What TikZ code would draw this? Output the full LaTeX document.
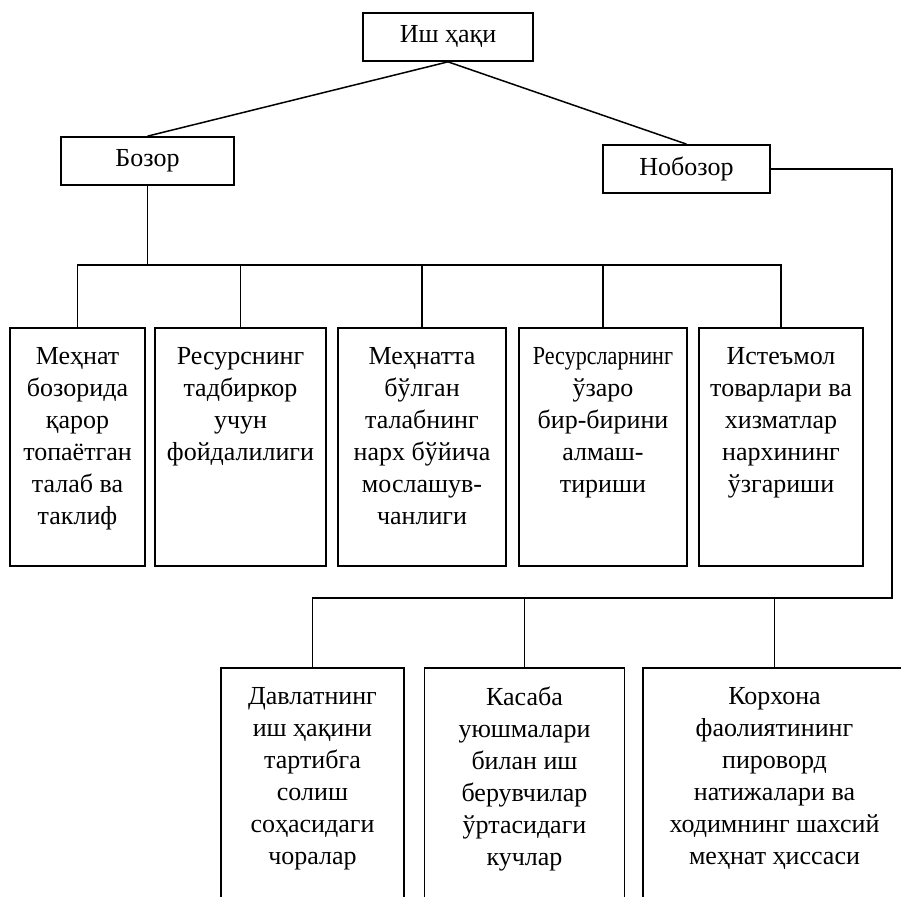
\documentclass[tikz,border=0pt]{standalone}
\usepackage{fontspec}
\setmainfont{Liberation Serif}
\usetikzlibrary{positioning}
\tikzset{
  headbox/.style={rectangle,draw,line width=1.7pt,minimum height=48pt,inner sep=0pt,font=\fontsize{26}{32}\selectfont},
  colbox/.style={rectangle,draw,line width=1.7pt,inner sep=0pt},
  coltext/.style={anchor=north,align=center,inner sep=0pt,yshift=-20pt,font=\fontsize{26}{32}\selectfont},
  link/.style={line width=1.5pt}
}

\begin{document}
\begin{tikzpicture}[x=1pt,y=-1pt]
  \useasboundingbox (0,0) rectangle (901,896);
  % top levels
  \node[headbox,minimum width=170pt] (wage) at (448,37) {Иш ҳақи};
  \node[headbox,minimum width=173pt] (market) at (147.5,161) {Бозор};
  \node[headbox,minimum width=167pt] (nonmarket) at (686.5,169) {Нобозор};
  % market factors
  \node[colbox,minimum width=135pt,minimum height=238pt] (m1) at (77.5,447) {};
  \node[colbox,minimum width=171pt,minimum height=238pt] (m2) at (240.5,447) {};
  \node[colbox,minimum width=168pt,minimum height=238pt] (m3) at (422,447) {};
  \node[colbox,minimum width=168pt,minimum height=238pt] (m4) at (603,447) {};
  \node[colbox,minimum width=164pt,minimum height=238pt] (m5) at (781,447) {};
  \node[coltext] (m1t) at (m1.north) {Меҳнат\\бозорида\\қарор\\топаётган\\талаб ва\\таклиф};
  \node[coltext] (m2t) at (m2.north) {Ресурснинг\\тадбиркор\\учун\\фойдалилиги};
  \node[coltext] (m3t) at (m3.north) {Меҳнатта\\бўлган\\талабнинг\\нарх бўйича\\мослашув-\\чанлиги};
  \node[coltext] (m4t) at (m4.north) {\scalebox{0.85}[1]{Ресурсларнинг}\\ўзаро\\бир-бирини\\алмаш-\\тириши};
  \node[coltext] (m5t) at (m5.north) {Истеъмол\\товарлари ва\\хизматлар\\нархининг\\ўзгариши};
  % non-market factors
  \node[colbox,minimum width=183pt,minimum height=242pt] (n1) at (312.5,789) {};
  \node[colbox,minimum width=200pt,minimum height=242pt] (n2) at (524.5,789) {};
  \node[colbox,minimum width=263pt,minimum height=242pt] (n3) at (774.5,789) {};
  \node[coltext] (n1t) at (n1.north) {Давлатнинг\\иш ҳақини\\тартибга\\солиш\\соҳасидаги\\чоралар};
  \node[coltext] (n2t) at (n2.north) {Касаба\\уюшмалари\\билан иш\\берувчилар\\ўртасидаги\\кучлар};
  \node[coltext] (n3t) at (n3.north) {Корхона\\фаолиятининг\\пироворд\\натижалари ва\\ходимнинг шахсий\\меҳнат ҳиссаси};
  % connectors
  \draw[link] (wage.south) -- (market.north);
  \draw[link] (wage.south) -- (nonmarket.north);
  \coordinate (bus) at (0,265);
  \foreach \i in {1,...,5}
    \draw[link] (market.south) -- (market.south |- bus) -| (m\i.north);
  \coordinate (turn) at (892,598);
  \draw[link] (nonmarket.east) -| (turn) -| (n1.north);
  \draw[link] (turn) -| (n2.north);
  \draw[link] (turn) -| (n3.north);
\end{tikzpicture}
\end{document}
